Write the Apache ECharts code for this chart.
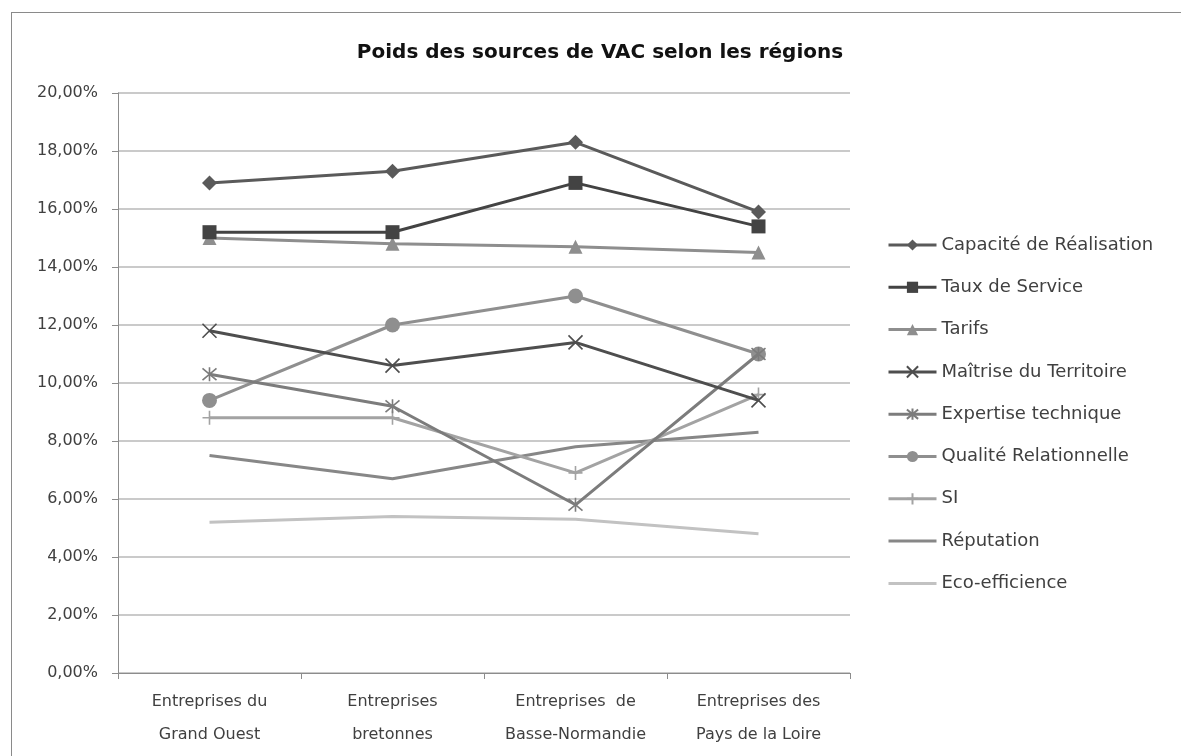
<!DOCTYPE html>
<html>
<head>
<meta charset="utf-8">
<script src="https://cdn.jsdelivr.net/npm/echarts@6/dist/echarts.min.js"></script>
<style>
  html, body { margin: 0; padding: 0; background: #fff; }
  #frame { position: absolute; left: 11px; top: 12px; width: 1180px; height: 760px; border: 1px solid #8a8a8a; box-sizing: border-box; z-index: 2; pointer-events: none; }
  #chart { position: absolute; left: 0; top: 0; width: 1181px; height: 756px; }
</style>
</head>
<body>
<div id="frame"></div>
<div id="chart"></div>
<script>
// categories (x axis)
const regions = [
  'Entreprises du\nGrand Ouest',
  'Entreprises\nbretonnes',
  'Entreprises  de\nBasse-Normandie',
  'Entreprises des\nPays de la Loire'
]

// values in %
const capacite = [16.9, 17.3, 18.3, 15.9]
const tauxService = [15.2, 15.2, 16.9, 15.4]
const tarifs = [15.0, 14.8, 14.7, 14.5]
const maitrise = [11.8, 10.6, 11.4, 9.4]
const expertise = [10.3, 9.2, 5.8, 11.0]
const qualite = [9.4, 12.0, 13.0, 11.0]
const si = [8.8, 8.8, 6.9, 9.6]
const reputation = [7.5, 6.7, 7.8, 8.3]
const ecoEfficience = [5.2, 5.4, 5.3, 4.8]

const chartInstance = echarts.init(document.getElementById('chart'))

const font = 'DejaVu Sans'
const xPath = 'path://M0,0 L10,10 M10,0 L0,10'
const starPath = 'path://M0,0 L10,10 M10,0 L0,10 M5,-1 L5,11'
const plusPath = 'path://M5,0 L5,10 M0,5 L10,5'

// one line series
function makeSeries (name, data, color, symbol, size, opts) {
  const s = {
    name : name,
    type : 'line',
    data : data,
    symbol : symbol,
    symbolSize : size,
    lineStyle : { color : color, width : 3 },
    itemStyle : { color : color },
    emphasis : { disabled : true },
    animation : false
  }
  return Object.assign(s, opts || {})
}

const strokeOnly = (c) => ({ itemStyle : { color : 'rgba(0,0,0,0)', borderColor : c, borderWidth : 1.6 } })
// plain line, no marker (also hides the marker in the legend)
const noMarker = { showSymbol : false, itemStyle : { opacity : 0 } }

const series = [
  makeSeries('Capacité de Réalisation', capacite, '#5a5a5a', 'diamond', 15),
  makeSeries('Taux de Service', tauxService, '#434343', 'rect', 14),
  makeSeries('Tarifs', tarifs, '#8e8e8e', 'triangle', 14),
  makeSeries('Maîtrise du Territoire', maitrise, '#4e4e4e', xPath, 14, strokeOnly('#4e4e4e')),
  makeSeries('Expertise technique', expertise, '#7c7c7c', starPath, 14, strokeOnly('#7c7c7c')),
  makeSeries('Qualité Relationnelle', qualite, '#8f8f8f', 'circle', 15),
  makeSeries('SI', si, '#a3a3a3', plusPath, 14, strokeOnly('#a3a3a3')),
  makeSeries('Réputation', reputation, '#878787', 'circle', 2, noMarker),
  makeSeries('Eco-efficience', ecoEfficience, '#c2c2c2', 'circle', 2, noMarker)
]
// draw the lighter ones first so darker series sit on top
series.forEach((s, i) => { s.z = 10 - i })

const option = {
  backgroundColor : 'transparent',
  title : {
    text : 'Poids des sources de VAC selon les régions',
    left : 595,
    textAlign : 'center',
    top : 38,
    textStyle : { fontFamily : font, fontSize : 20, fontWeight : 'bold', color : '#111' }
  },
  grid : {
    left : 118,
    right : 331,
    top : 93,
    bottom : 83
  },
  legend : {
    orient : 'vertical',
    left : 882,
    top : 230,
    itemWidth : 48,
    itemHeight : 14,
    itemGap : 22.3,
    data : series.map(s => s.name),
    lineStyle : { width : 3 },
    textStyle : { fontFamily : font, fontSize : 18, lineHeight : 20, color : '#404040' }
  },
  xAxis : {
    type : 'category',
    data : regions,
    boundaryGap : true,
    axisLine : { lineStyle : { color : '#8c8c8c', width : 1 } },
    axisTick : { show : true, length : 6, lineStyle : { color : '#8c8c8c' } },
    axisLabel : { interval : 0, fontFamily : font, fontSize : 16, color : '#404040', margin : 12, lineHeight : 33 }
  },
  yAxis : {
    type : 'value',
    min : 0,
    max : 20,
    interval : 2,
    axisLine : { show : true, lineStyle : { color : '#8c8c8c', width : 1 } },
    axisTick : { show : true, length : 6, lineStyle : { color : '#8c8c8c' } },
    splitLine : { lineStyle : { color : '#b8b8b8', width : 1.5 } },
    axisLabel : {
      fontFamily : font,
      fontSize : 16,
      color : '#404040',
      margin : 20,
      formatter : (v) => v.toFixed(2).replace('.', ',') + '%'
    }
  },
  series : series
}

chartInstance.setOption(option)
</script>
</body>
</html>
